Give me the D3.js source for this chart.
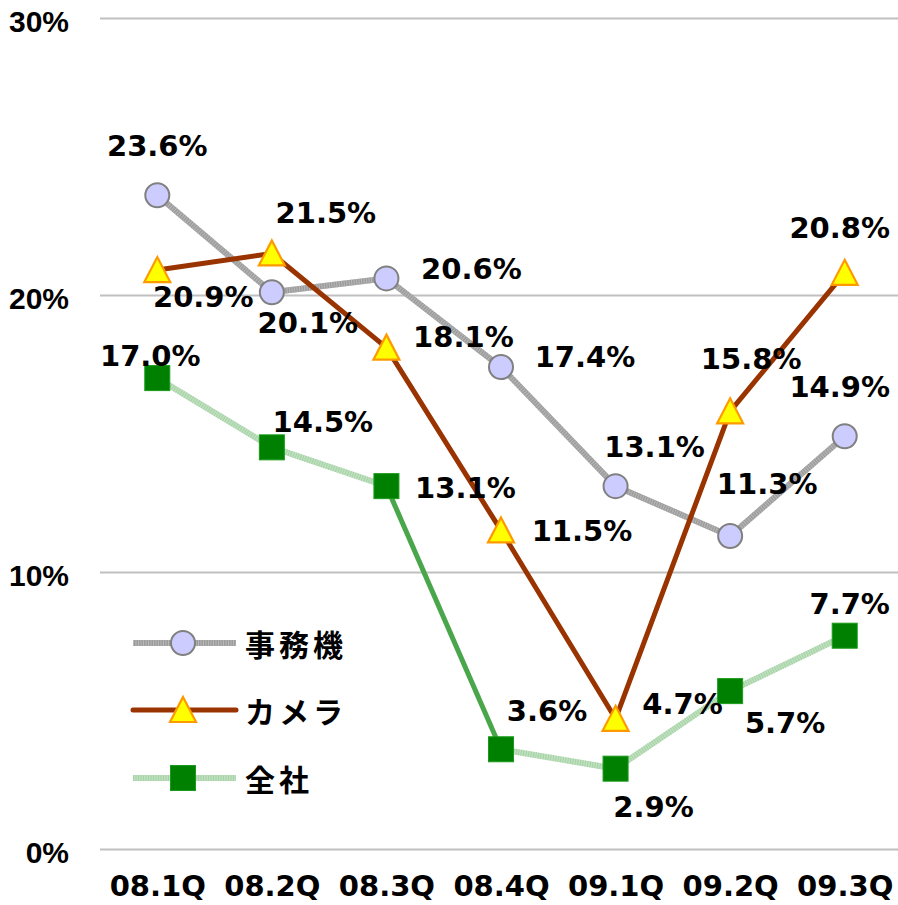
<!DOCTYPE html>
<html>
<head>
<meta charset="utf-8">
<script src="https://cdn.jsdelivr.net/npm/d3@7"></script>
<style>
  html, body { margin: 0; padding: 0; background: #ffffff; }
  svg { display: block; }
</style>
</head>
<body>
<svg id="chart" width="898" height="905"></svg>
<script>
// ---------------- data ----------------
const categories = ["08.1Q", "08.2Q", "08.3Q", "08.4Q", "09.1Q", "09.2Q", "09.3Q"];
const seriesNames = ["事務機", "カメラ", "全社"];
const officeValues = [23.6, 20.1, 20.6, 17.4, 13.1, 11.3, 14.9];
const cameraValues = [20.9, 21.5, 18.1, 11.5, 4.7, 15.8, 20.8];
const totalValues  = [17.0, 14.5, 13.1, 3.6, 2.9, 5.7, 7.7];
const yTicks = [0, 10, 20, 30];
const yTickLabels = ["0%", "10%", "20%", "30%"];

// ---------------- layout / style ----------------
const W = 898, H = 905;
const plot = { left: 100, right: 902, top: 18, bottom: 849 };

// label offsets (pixels) relative to each point: [dx, dy] of label centre
const officeLabelOffsets = [[0, -50], [36, 30], [85, -10], [84, -11], [39, -40], [37, -52], [-5, -50]];
const cameraLabelOffsets = [[46, 26], [54, -41], [77, -11], [81, 0], [67, -15], [21, -53], [-5, -45]];
const totalLabelOffsets  = [[-7, -23], [51, -26], [79, 1], [46, -39], [38, 38], [55, 31], [5, -32]];

// segment index drawn in the emphasised style for the 全社 series
const totalHighlightSegments = [2];

const svg = d3.select("#chart");
svg.append("rect").attr("width", W).attr("height", H).attr("fill", "#ffffff");

const x = d3.scalePoint().domain(categories).range([plot.left, plot.right]).padding(0.5);
const y = d3.scaleLinear().domain([0, 30]).range([plot.bottom, plot.top]);

const axisFont = "'Liberation Sans', Arial, sans-serif";
const numFont = "'DejaVu Sans', sans-serif";
const cjkFont = "'Noto Sans CJK JP', 'Noto Sans CJK SC', sans-serif";

// ---------------- gridlines & y axis ----------------
const yAxis = d3.axisLeft(y).tickValues(yTicks).tickSize(-(W - plot.left)).tickFormat((d, i) => yTickLabels[i]);
const gy = svg.append("g").attr("transform", `translate(${plot.left},0)`).call(yAxis);
gy.select(".domain").remove();
gy.selectAll(".tick line").attr("stroke", "#c0c0c0").attr("stroke-width", 2);
gy.selectAll(".tick text")
  .attr("x", -31)
  .attr("dy", "0.45em")
  .attr("fill", "#000")
  .attr("font-family", axisFont)
  .attr("font-weight", "bold")
  .attr("font-size", 30)
  .attr("text-anchor", "end");

// ---------------- x axis labels ----------------
const xAxis = d3.axisBottom(x).tickSize(0).tickPadding(0);
const gx = svg.append("g").attr("transform", `translate(0,${plot.bottom})`).call(xAxis);
gx.select(".domain").remove();
gx.selectAll(".tick text")
  .attr("y", 47)
  .attr("dy", 0)
  .attr("fill", "#000")
  .attr("font-family", numFont)
  .attr("font-weight", "bold")
  .attr("font-size", 29);

// ---------------- series definitions ----------------
const series = [
  { name: seriesNames[0], values: officeValues, offsets: officeLabelOffsets,
    line: { base: "#9c9c9c", stripe: "#b8b8b8", width: 6 }, marker: "circle",
    fill: "#ccccff", stroke: "#808080" },
  { name: seriesNames[1], values: cameraValues, offsets: cameraLabelOffsets,
    line: { base: "#993300", stripe: null, width: 5 }, marker: "triangle",
    fill: "#ffff00", stroke: "#ff9900" },
  { name: seriesNames[2], values: totalValues, offsets: totalLabelOffsets,
    line: { base: "#bfe0bf", stripe: "#a6d2a6", width: 6 }, marker: "square",
    fill: "#008000", stroke: "#1a9a1a",
    highlight: { segments: totalHighlightSegments, color: "#4aa64a", width: 5 } }
];

const lineGen = d3.line().x(d => x(d.c)).y(d => y(d.v));

function drawStyledPath(g, pts, style) {
  g.append("path").datum(pts).attr("d", lineGen)
    .attr("fill", "none").attr("stroke", style.base).attr("stroke-width", style.width)
    .attr("stroke-linejoin", "round").attr("stroke-linecap", "butt");
  if (style.stripe) {
    g.append("path").datum(pts).attr("d", lineGen)
      .attr("fill", "none").attr("stroke", style.stripe).attr("stroke-width", style.width)
      .attr("stroke-dasharray", "1,1.5").attr("stroke-linejoin", "round");
  }
}

const linesG = svg.append("g");
series.forEach(s => {
  const pts = s.values.map((v, i) => ({ c: categories[i], v }));
  const g = linesG.append("g");
  if (s.highlight) {
    for (let i = 0; i < pts.length - 1; i++) {
      if (s.highlight.segments.includes(i)) continue;
      drawStyledPath(g, [pts[i], pts[i + 1]], s.line);
    }
    s.highlight.segments.forEach(i => {
      g.append("path").datum([pts[i], pts[i + 1]]).attr("d", lineGen)
        .attr("fill", "none").attr("stroke", s.highlight.color)
        .attr("stroke-width", s.highlight.width);
    });
  } else {
    drawStyledPath(g, pts, s.line);
  }
});

function drawMarker(g, type, cx, cy, fill, stroke) {
  if (type === "circle") {
    g.append("circle").attr("cx", cx).attr("cy", cy).attr("r", 12)
      .attr("fill", fill).attr("stroke", stroke).attr("stroke-width", 2);
  } else if (type === "triangle") {
    const s = 26;
    const h = 24;
    g.append("path")
      .attr("d", `M${cx},${cy - h / 2 - 1} L${cx + s / 2},${cy + h / 2} L${cx - s / 2},${cy + h / 2} Z`)
      .attr("fill", fill).attr("stroke", stroke).attr("stroke-width", 2.2)
      .attr("stroke-linejoin", "miter");
  } else {
    const s = 25;
    g.append("rect").attr("x", cx - s / 2).attr("y", cy - s / 2).attr("width", s).attr("height", s)
      .attr("fill", fill).attr("stroke", stroke).attr("stroke-width", 1);
  }
}

const markersG = svg.append("g");
series.forEach(s => {
  s.values.forEach((v, i) => drawMarker(markersG, s.marker, x(categories[i]), y(v), s.fill, s.stroke));
});

// ---------------- data labels ----------------
const labelsG = svg.append("g");
series.forEach(s => {
  s.values.forEach((v, i) => {
    const [dx, dy] = s.offsets[i];
    labelsG.append("text")
      .attr("x", x(categories[i]) + dx)
      .attr("y", y(v) + dy + 10.5)
      .attr("text-anchor", "middle")
      .attr("font-family", numFont)
      .attr("font-weight", "bold")
      .attr("font-size", 29)
      .attr("fill", "#000")
      .text(v.toFixed(1) + "%");
  });
});

// ---------------- legend ----------------
const legend = { x1: 133, x2: 236, mx: 183, tx: 245, ys: [643, 710, 778] };
const legendG = svg.append("g");
series.forEach((s, i) => {
  const ly = legend.ys[i];
  const pts = [{ px: legend.x1, py: ly }, { px: legend.x2, py: ly }];
  const lg = d3.line().x(d => d.px).y(d => d.py);
  legendG.append("path").datum(pts).attr("d", lg)
    .attr("stroke", s.line.base).attr("stroke-width", s.line.width)
    .attr("stroke-linecap", s.marker === "triangle" ? "round" : "butt");
  if (s.line.stripe) {
    legendG.append("path").datum(pts).attr("d", lg)
      .attr("stroke", s.line.stripe).attr("stroke-width", s.line.width)
      .attr("stroke-dasharray", "1,1.5");
  }
  drawMarker(legendG, s.marker, legend.mx, ly, s.fill, s.stroke);
  legendG.append("text")
    .attr("x", legend.tx)
    .attr("y", ly)
    .attr("dominant-baseline", "central")
    .attr("font-family", cjkFont)
    .attr("font-weight", "bold")
    .attr("font-size", 30)
    .attr("letter-spacing", 4)
    .attr("fill", "#000")
    .text(s.name);
});
</script>
</body>
</html>
